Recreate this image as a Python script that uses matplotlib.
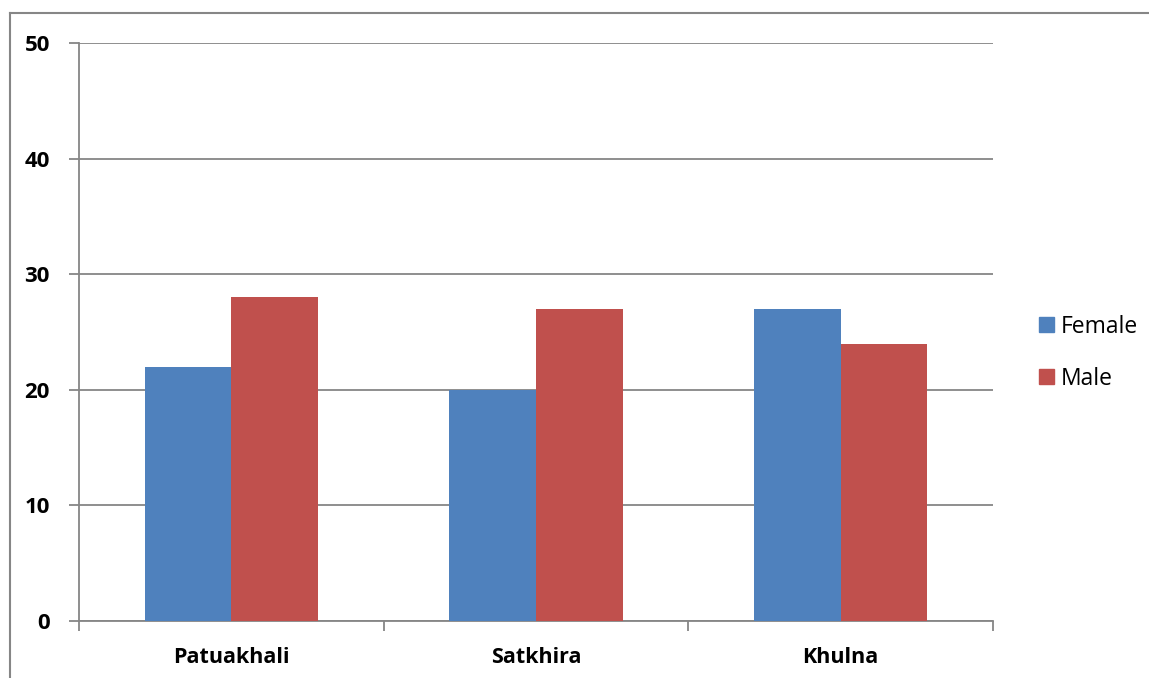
import matplotlib.pyplot as plt
import numpy as np
from matplotlib.lines import Line2D
from matplotlib.patches import Patch

plt.rcParams["font.family"] = ["Open Sans", "DejaVu Sans"]

districts = ["Patuakhali", "Satkhira", "Khulna"]
female = [22, 20, 27]
male = [28, 27, 24]
yticks = [0, 10, 20, 30, 40, 50]

BLUE = "#4F81BD"
RED = "#C0504D"
GRID = "#868686"

fig = plt.figure(figsize=(11.49, 6.78), dpi=100)
ax = fig.add_axes([0.0688, 0.0841, 0.7954, 0.8525])

x = np.arange(len(districts))
width = 0.285
ax.bar(x - width / 2, female, width, color=BLUE, label="Female", zorder=3)
ax.bar(x + width / 2, male, width, color=RED, label="Male", zorder=3)

ax.set_xlim(-0.5, len(districts) - 0.5)
ax.set_ylim(0, 50)
ax.set_yticks(yticks)
ax.set_yticklabels([str(v) for v in yticks], fontsize=16, fontweight="bold")
ax.yaxis.grid(True, color=GRID, linewidth=1.3, zorder=0)
ax.tick_params(axis="y", length=7, color=GRID, width=1.3, pad=14)

# category labels in the middle, tick marks on the boundaries
ax.set_xticks(x)
ax.set_xticklabels(districts, fontsize=15.5, fontweight="bold")
ax.tick_params(axis="x", length=0, pad=19)
ax.set_xticks(np.arange(-0.5, len(districts)), minor=True)
ax.tick_params(axis="x", which="minor", length=7, color=GRID, width=1.3, direction="out")

for side in ["top", "right"]:
    ax.spines[side].set_visible(False)
for side in ["left", "bottom"]:
    ax.spines[side].set_color(GRID)
    ax.spines[side].set_linewidth(1.3)

handles = [Patch(color=BLUE, label="Female"), Patch(color=RED, label="Male")]
fig.legend(handles=handles, loc="center left", bbox_to_anchor=(0.886, 0.480),
           frameon=False, fontsize=16.5, handlelength=0.65, handleheight=0.65,
           handletextpad=0.3, labelspacing=1.22)

# chart frame
fig.add_artist(Line2D([10 / 1149, 10 / 1149], [0, 1 - 13 / 678], color=GRID, linewidth=1.5))
fig.add_artist(Line2D([10 / 1149, 1], [1 - 13 / 678, 1 - 13 / 678], color=GRID, linewidth=1.5))

fig.savefig("out.png", dpi=100)
